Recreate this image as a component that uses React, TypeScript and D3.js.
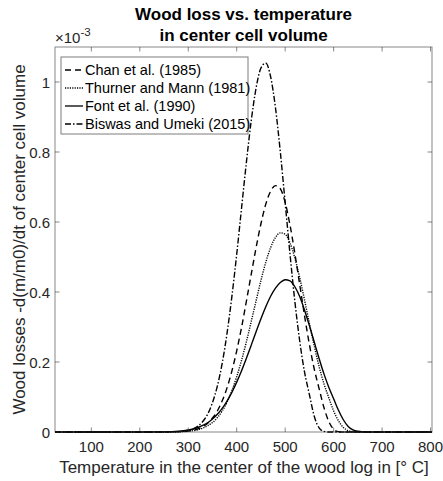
import React from "react";
import * as d3 from "d3";

const temps = [25, 200, 250, 280, 300, 310, 320, 330, 340, 350, 360, 370, 380, 390, 400, 410, 420, 430, 440, 450, 460, 470, 480, 490, 500, 510, 520, 530, 540, 550, 560, 570, 580, 590, 600, 610, 620, 630, 640, 650, 660, 680, 700, 803];

const chan = [0, 0, 0.0001, 0.0008, 0.003, 0.005, 0.009, 0.015, 0.025, 0.04, 0.06, 0.089, 0.126, 0.174, 0.232, 0.299, 0.374, 0.451, 0.527, 0.595, 0.651, 0.688, 0.704, 0.695, 0.656, 0.591, 0.51, 0.421, 0.332, 0.25, 0.18, 0.124, 0.07, 0.03, 0.008, 0.001, 0, 0, 0, 0, 0, 0, 0, 0];
const thurner = [0, 0, 0.0001, 0.0007, 0.0022, 0.0039, 0.0067, 0.011, 0.018, 0.027, 0.041, 0.06, 0.085, 0.118, 0.158, 0.205, 0.258, 0.316, 0.375, 0.433, 0.485, 0.527, 0.556, 0.569, 0.565, 0.54, 0.497, 0.441, 0.377, 0.31, 0.246, 0.187, 0.138, 0.098, 0.06, 0.032, 0.013, 0.004, 0.001, 0, 0, 0, 0, 0];
const font = [0, 0, 0.0005, 0.0023, 0.0057, 0.0086, 0.0128, 0.0187, 0.0265, 0.037, 0.0505, 0.0676, 0.0885, 0.1134, 0.1424, 0.175, 0.2107, 0.2482, 0.2865, 0.3237, 0.358, 0.388, 0.411, 0.427, 0.435, 0.432, 0.415, 0.387, 0.348, 0.304, 0.257, 0.21, 0.166, 0.128, 0.095, 0.062, 0.035, 0.016, 0.006, 0.002, 0.0005, 0, 0, 0];
const biswas = [0, 0, 0.0001, 0.001, 0.005, 0.009, 0.017, 0.03, 0.051, 0.084, 0.131, 0.196, 0.282, 0.387, 0.508, 0.64, 0.771, 0.89, 0.983, 1.04, 1.054, 1.015, 0.926, 0.8, 0.655, 0.508, 0.373, 0.26, 0.171, 0.107, 0.045, 0.012, 0.002, 0, 0, 0, 0, 0, 0, 0, 0, 0, 0, 0];

const seriesNames = ["Chan et al. (1985)", "Thurner and Mann (1981)", "Font et al. (1990)", "Biswas and Umeki (2015)"];
const seriesValues = [chan, thurner, font, biswas];
const dashes = ["6,4", "1.2,1.2", "none", "6,2,1.5,2"];

const xTicks = [100, 200, 300, 400, 500, 600, 700, 800];
const yTicks = [0, 0.2, 0.4, 0.6, 0.8, 1];

const W = 443, H = 481;
const L = 55, R = 432, T = 47, B = 432;
const FF = "'Liberation Sans', Arial, Helvetica, sans-serif";
const AX = "#262626";

export default function App() {
  const x = d3.scaleLinear().domain([25, 803]).range([L, R]);
  const y = d3.scaleLinear().domain([0, 1.1]).range([B, T]);
  const line = d3.line<[number, number]>().x(d => x(d[0])).y(d => y(d[1])).curve(d3.curveMonotoneX);
  const tl = 4.5;
  return (
    <svg width={W} height={H} style={{ position: "absolute", left: 0, top: 0, background: "#fff" }} fontFamily={FF}>
      <rect width={W} height={H} fill="#fff" />
      <text x={243.5} y={20} textAnchor="middle" fontWeight="bold" fontSize={17} fill="#000">Wood loss vs. temperature</text>
      <text x={243.5} y={41} textAnchor="middle" fontWeight="bold" fontSize={17} fill="#000">in center cell volume</text>
      <text x={55} y={43} fontSize={15} fill={AX}>×10<tspan dy={-7} fontSize={11.5}>-3</tspan></text>
      {seriesValues.map((vals, i) => (
        <path key={i} d={line(temps.map((t, j) => [t, vals[j]]) as [number, number][]) || ""} fill="none" stroke="#000" strokeWidth={1.4} strokeDasharray={dashes[i]} />
      ))}
      <rect x={L} y={T} width={R - L} height={B - T} fill="none" stroke={AX} strokeOpacity={0.55} strokeWidth={1} />
      {xTicks.map(t => (
        <g key={t}>
          <line x1={x(t)} x2={x(t)} y1={B} y2={B - tl} stroke={AX} strokeOpacity={0.55} />
          <line x1={x(t)} x2={x(t)} y1={T} y2={T + tl} stroke={AX} strokeOpacity={0.55} />
          <text x={x(t)} y={B + 20} textAnchor="middle" fontSize={15} fill={AX}>{t}</text>
        </g>
      ))}
      {yTicks.map(t => (
        <g key={t}>
          <line x1={L} x2={L + tl} y1={y(t)} y2={y(t)} stroke={AX} strokeOpacity={0.55} />
          <line x1={R} x2={R - tl} y1={y(t)} y2={y(t)} stroke={AX} strokeOpacity={0.55} />
          <text x={L - 5} y={y(t) + 5.5} textAnchor="end" fontSize={15} fill={AX}>{String(t)}</text>
        </g>
      ))}
      <text x={244} y={473} textAnchor="middle" fontSize={17} fill={AX}>Temperature in the center of the wood log in [° C]</text>
      <text transform={`translate(25,${(T + B) / 2}) rotate(-90)`} textAnchor="middle" fontSize={17} fill={AX}>Wood losses -d(m/m0)/dt of center cell volume</text>
      <g>
        <rect x={61} y={57} width={187} height={77} fill="#fff" stroke={AX} strokeOpacity={0.6} strokeWidth={1} />
        {seriesNames.map((n, i) => {
          const yy = 70 + i * 18;
          return (
            <g key={n}>
              <line x1={65} x2={83} y1={yy} y2={yy} stroke="#000" strokeWidth={1.3} strokeDasharray={dashes[i]} />
              <text x={85} y={yy + 5} fontSize={14.5} fill="#000">{n}</text>
            </g>
          );
        })}
      </g>
    </svg>
  );
}
